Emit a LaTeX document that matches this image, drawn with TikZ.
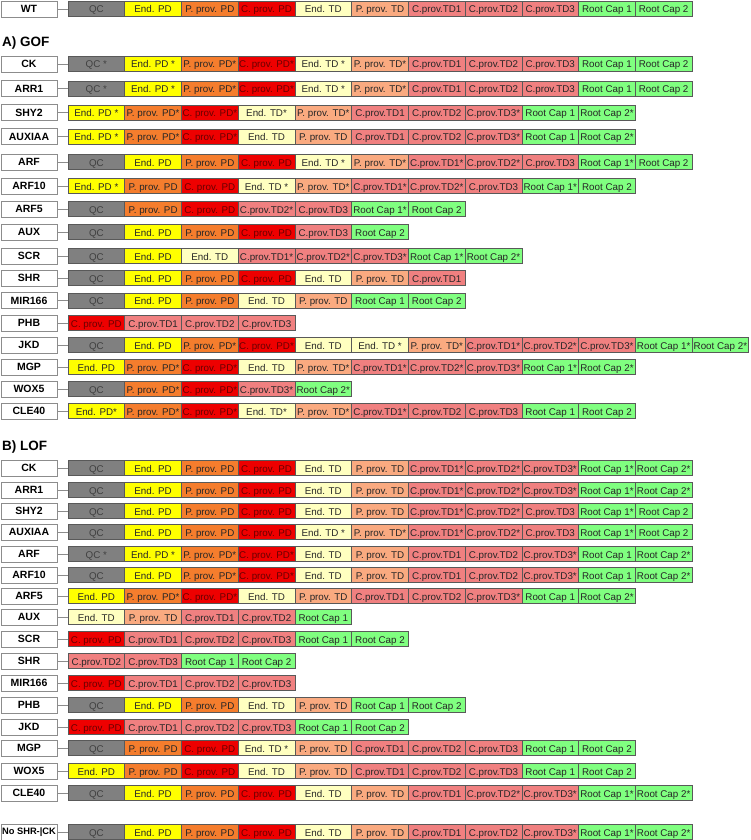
\documentclass[tikz,border=0pt]{standalone}
\usepackage{fontspec}
\setmainfont{Liberation Sans}
\usetikzlibrary{positioning}
\definecolor{qcgray}{RGB}{128,128,128}
\definecolor{endpd}{RGB}{255,255,0}
\definecolor{pprovpd}{RGB}{245,125,45}
\definecolor{cprovpd}{RGB}{238,0,0}
\definecolor{endtd}{RGB}{255,255,192}
\definecolor{pprovtd}{RGB}{250,170,128}
\definecolor{cprovtd}{RGB}{240,128,128}
\definecolor{rootcap}{RGB}{128,255,128}

% one row: label box, connector, cells
\newcommand{\cellrow}[4]{%
  \node[lab] (#1) at (29,#2) {#3};
  \foreach \sty/\txt [count=\i] in {#4} {
    \node[cell,\sty] (#1-\i) at ({68+(\i-0.5)*56.73},#2) {\txt};
  }
  \draw[link] (#1.east) -- (#1-1.west);
}

\begin{document}
\begin{tikzpicture}[
    x=1pt, y=-1pt,
    cell/.style={draw=black!65,line width=0.6pt,minimum width=56.73pt,
                 minimum height=15pt,inner sep=0pt,text=black!85,
                 text height=8pt,text depth=0pt,
                 font=\fontsize{9.8}{10}\selectfont},
    lab/.style={draw=black!45,fill=white,line width=0.8pt,minimum width=56pt,
                minimum height=16pt,inner sep=0pt,
                font=\fontsize{10.5}{11}\selectfont\bfseries},
    link/.style={draw=black!45,line width=0.8pt},
    sect/.style={anchor=west,inner sep=0pt,font=\fontsize{13.5}{14}\selectfont\bfseries},
    qc/.style={fill=qcgray,text=black!75},
    epd/.style={fill=endpd},
    ppd/.style={fill=pprovpd},
    cpd/.style={fill=cprovpd,text={rgb,255:red,105;green,0;blue,0}},
    etd/.style={fill=endtd},
    ptd/.style={fill=pprovtd},
    ctd/.style={fill=cprovtd},
    rc/.style={fill=rootcap}
]
  \useasboundingbox (0,0) rectangle (750,840);

  % Wild type
  \cellrow{wt}{9}{WT}{qc/QC, epd/End. PD, ppd/P. prov. PD, cpd/C. prov. PD, etd/End. TD, ptd/P. prov. TD, ctd/C.prov.TD1, ctd/C.prov.TD2, ctd/C.prov.TD3, rc/Root Cap 1, rc/Root Cap 2}

  % A) gain of function
  \node[sect] (gof) at (2,43) {A) GOF};
  \cellrow{gof-ck}{64}{CK}{qc/QC *, epd/End. PD *, ppd/P. prov. PD*, cpd/C. prov. PD*, etd/End. TD *, ptd/P. prov. TD*, ctd/C.prov.TD1, ctd/C.prov.TD2, ctd/C.prov.TD3, rc/Root Cap 1, rc/Root Cap 2}
  \cellrow{gof-arr1}{88.5}{ARR1}{qc/QC *, epd/End. PD *, ppd/P. prov. PD*, cpd/C. prov. PD*, etd/End. TD *, ptd/P. prov. TD*, ctd/C.prov.TD1, ctd/C.prov.TD2, ctd/C.prov.TD3, rc/Root Cap 1, rc/Root Cap 2}
  \cellrow{gof-shy2}{112.5}{SHY2}{epd/End. PD *, ppd/P. prov. PD*, cpd/C. prov. PD*, etd/End. TD*, ptd/P. prov. TD*, ctd/C.prov.TD1, ctd/C.prov.TD2, ctd/C.prov.TD3*, rc/Root Cap 1, rc/Root Cap 2*}
  \cellrow{gof-auxiaa}{136.5}{AUXIAA}{epd/End. PD *, ppd/P. prov. PD*, cpd/C. prov. PD*, etd/End. TD, ptd/P. prov. TD, ctd/C.prov.TD1, ctd/C.prov.TD2, ctd/C.prov.TD3*, rc/Root Cap 1, rc/Root Cap 2*}
  \cellrow{gof-arf}{162}{ARF}{qc/QC, epd/End. PD, ppd/P. prov. PD, cpd/C. prov. PD, etd/End. TD *, ptd/P. prov. TD*, ctd/C.prov.TD1*, ctd/C.prov.TD2*, ctd/C.prov.TD3, rc/Root Cap 1*, rc/Root Cap 2}
  \cellrow{gof-arf10}{186}{ARF10}{epd/End. PD *, ppd/P. prov. PD, cpd/C. prov. PD, etd/End. TD *, ptd/P. prov. TD*, ctd/C.prov.TD1*, ctd/C.prov.TD2*, ctd/C.prov.TD3, rc/Root Cap 1*, rc/Root Cap 2}
  \cellrow{gof-arf5}{209}{ARF5}{qc/QC, ppd/P. prov. PD, cpd/C. prov. PD, ctd/C.prov.TD2*, ctd/C.prov.TD3, rc/Root Cap 1*, rc/Root Cap 2}
  \cellrow{gof-aux}{232}{AUX}{qc/QC, epd/End. PD, ppd/P. prov. PD, cpd/C. prov. PD, ctd/C.prov.TD3, rc/Root Cap 2}
  \cellrow{gof-scr}{256}{SCR}{qc/QC, epd/End. PD, etd/End. TD, ctd/C.prov.TD1*, ctd/C.prov.TD2*, ctd/C.prov.TD3*, rc/Root Cap 1*, rc/Root Cap 2*}
  \cellrow{gof-shr}{278}{SHR}{qc/QC, epd/End. PD, ppd/P. prov. PD, cpd/C. prov. PD, etd/End. TD, ptd/P. prov. TD, ctd/C.prov.TD1}
  \cellrow{gof-mir166}{300.5}{MIR166}{qc/QC, epd/End. PD, ppd/P. prov. PD, etd/End. TD, ptd/P. prov. TD, rc/Root Cap 1, rc/Root Cap 2}
  \cellrow{gof-phb}{323}{PHB}{cpd/C. prov. PD, ctd/C.prov.TD1, ctd/C.prov.TD2, ctd/C.prov.TD3}
  \cellrow{gof-jkd}{345}{JKD}{qc/QC, epd/End. PD, ppd/P. prov. PD*, cpd/C. prov. PD*, etd/End. TD, etd/End. TD *, ptd/P. prov. TD*, ctd/C.prov.TD1*, ctd/C.prov.TD2*, ctd/C.prov.TD3*, rc/Root Cap 1*, rc/Root Cap 2*}
  \cellrow{gof-mgp}{367}{MGP}{epd/End. PD, ppd/P. prov. PD*, cpd/C. prov. PD*, etd/End. TD, ptd/P. prov. TD*, ctd/C.prov.TD1*, ctd/C.prov.TD2*, ctd/C.prov.TD3*, rc/Root Cap 1*, rc/Root Cap 2*}
  \cellrow{gof-wox5}{389}{WOX5}{qc/QC, ppd/P. prov. PD*, cpd/C. prov. PD*, ctd/C.prov.TD3*, rc/Root Cap 2*}
  \cellrow{gof-cle40}{411}{CLE40}{epd/End. PD*, ppd/P. prov. PD*, cpd/C. prov. PD*, etd/End. TD*, ptd/P. prov. TD*, ctd/C.prov.TD1*, ctd/C.prov.TD2, ctd/C.prov.TD3, rc/Root Cap 1, rc/Root Cap 2}

  % B) loss of function
  \node[sect] (lof) at (2,447) {B) LOF};
  \cellrow{lof-ck}{468}{CK}{qc/QC, epd/End. PD, ppd/P. prov. PD, cpd/C. prov. PD, etd/End. TD, ptd/P. prov. TD, ctd/C.prov.TD1*, ctd/C.prov.TD2*, ctd/C.prov.TD3*, rc/Root Cap 1*, rc/Root Cap 2*}
  \cellrow{lof-arr1}{490}{ARR1}{qc/QC, epd/End. PD, ppd/P. prov. PD, cpd/C. prov. PD, etd/End. TD, ptd/P. prov. TD, ctd/C.prov.TD1*, ctd/C.prov.TD2*, ctd/C.prov.TD3*, rc/Root Cap 1*, rc/Root Cap 2*}
  \cellrow{lof-shy2}{511}{SHY2}{qc/QC, epd/End. PD, ppd/P. prov. PD, cpd/C. prov. PD, etd/End. TD, ptd/P. prov. TD, ctd/C.prov.TD1*, ctd/C.prov.TD2*, ctd/C.prov.TD3, rc/Root Cap 1*, rc/Root Cap 2}
  \cellrow{lof-auxiaa}{532}{AUXIAA}{qc/QC, epd/End. PD, ppd/P. prov. PD, cpd/C. prov. PD, etd/End. TD *, ptd/P. prov. TD*, ctd/C.prov.TD1*, ctd/C.prov.TD2*, ctd/C.prov.TD3, rc/Root Cap 1*, rc/Root Cap 2}
  \cellrow{lof-arf}{554}{ARF}{qc/QC *, epd/End. PD *, ppd/P. prov. PD*, cpd/C. prov. PD*, etd/End. TD, ptd/P. prov. TD, ctd/C.prov.TD1, ctd/C.prov.TD2, ctd/C.prov.TD3*, rc/Root Cap 1, rc/Root Cap 2*}
  \cellrow{lof-arf10}{575}{ARF10}{qc/QC, epd/End. PD, ppd/P. prov. PD*, cpd/C. prov. PD*, etd/End. TD, ptd/P. prov. TD, ctd/C.prov.TD1, ctd/C.prov.TD2, ctd/C.prov.TD3*, rc/Root Cap 1, rc/Root Cap 2*}
  \cellrow{lof-arf5}{596}{ARF5}{epd/End. PD, ppd/P. prov. PD*, cpd/C. prov. PD*, etd/End. TD, ptd/P. prov. TD, ctd/C.prov.TD1, ctd/C.prov.TD2, ctd/C.prov.TD3*, rc/Root Cap 1, rc/Root Cap 2*}
  \cellrow{lof-aux}{617}{AUX}{etd/End. TD, ptd/P. prov. TD, ctd/C.prov.TD1, ctd/C.prov.TD2, rc/Root Cap 1}
  \cellrow{lof-scr}{639}{SCR}{cpd/C. prov. PD, ctd/C.prov.TD1, ctd/C.prov.TD2, ctd/C.prov.TD3, rc/Root Cap 1, rc/Root Cap 2}
  \cellrow{lof-shr}{661}{SHR}{ctd/C.prov.TD2, ctd/C.prov.TD3, rc/Root Cap 1, rc/Root Cap 2}
  \cellrow{lof-mir166}{683}{MIR166}{cpd/C. prov. PD, ctd/C.prov.TD1, ctd/C.prov.TD2, ctd/C.prov.TD3}
  \cellrow{lof-phb}{705}{PHB}{qc/QC, epd/End. PD, ppd/P. prov. PD, etd/End. TD, ptd/P. prov. TD, rc/Root Cap 1, rc/Root Cap 2}
  \cellrow{lof-jkd}{727}{JKD}{cpd/C. prov. PD, ctd/C.prov.TD1, ctd/C.prov.TD2, ctd/C.prov.TD3, rc/Root Cap 1, rc/Root Cap 2}
  \cellrow{lof-mgp}{748}{MGP}{qc/QC, ppd/P. prov. PD, cpd/C. prov. PD, etd/End. TD *, ptd/P. prov. TD, ctd/C.prov.TD1, ctd/C.prov.TD2, ctd/C.prov.TD3, rc/Root Cap 1, rc/Root Cap 2}
  \cellrow{lof-wox5}{771}{WOX5}{epd/End. PD, ppd/P. prov. PD, cpd/C. prov. PD, etd/End. TD, ptd/P. prov. TD, ctd/C.prov.TD1, ctd/C.prov.TD2, ctd/C.prov.TD3, rc/Root Cap 1, rc/Root Cap 2}
  \cellrow{lof-cle40}{793}{CLE40}{qc/QC, epd/End. PD, ppd/P. prov. PD, cpd/C. prov. PD, etd/End. TD, ptd/P. prov. TD, ctd/C.prov.TD1, ctd/C.prov.TD2*, ctd/C.prov.TD3*, rc/Root Cap 1*, rc/Root Cap 2*}

  % double mutant
  \cellrow{noshrck}{832}{\fontsize{9.3}{10}\selectfont No SHR-|CK}{qc/QC, epd/End. PD, ppd/P. prov. PD, cpd/C. prov. PD, etd/End. TD, ptd/P. prov. TD, ctd/C.prov.TD1, ctd/C.prov.TD2, ctd/C.prov.TD3*, rc/Root Cap 1*, rc/Root Cap 2*}

\end{tikzpicture}
\end{document}
